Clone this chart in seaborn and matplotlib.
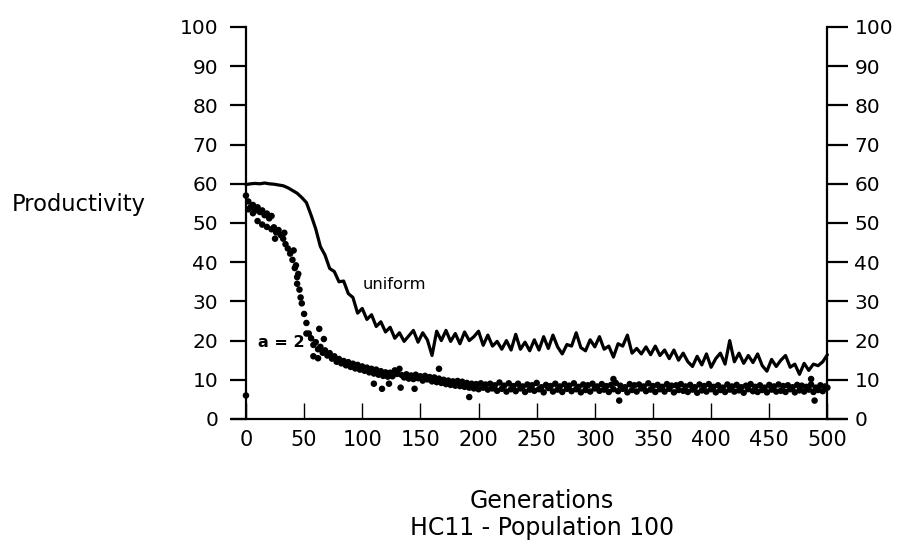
import numpy as np
import pandas as pd
import matplotlib
matplotlib.use("Agg")
import matplotlib.pyplot as plt
import seaborn as sns

# ---------------- data ----------------
uniform_gen = list(range(0, 501, 4))
uniform_val = [
    59.8, 60.0, 60.1, 60.0, 60.2, 60.0, 59.9, 59.7, 59.5, 59.0,
    58.3, 57.6, 56.5, 55.2, 52.0, 48.5, 44.0, 41.8, 38.4, 37.6,
    35.0, 35.2, 32.0, 31.0,
    27.0, 28.2, 25.4, 26.6, 23.6, 24.8, 22.2, 23.4, 20.6, 22.0,
    19.8, 21.2, 22.6, 19.6, 22.0, 20.2, 16.2, 22.4, 20.0, 22.6,
    19.8, 21.8, 19.2, 22.2, 20.0, 21.0, 22.4, 18.8, 21.4, 18.6,
    19.8, 17.8, 20.0, 17.6, 21.6, 17.8, 19.6, 17.4, 20.2, 17.6,
    21.0, 18.0, 21.4, 18.4, 16.6, 19.0, 18.6, 22.0, 18.2, 17.4,
    20.2, 18.4, 21.0, 17.8, 18.6, 15.8, 19.2, 18.6, 21.4, 16.8,
    18.0, 16.6, 18.4, 16.4, 18.6, 16.2, 17.6, 15.4, 17.6, 15.0,
    16.8, 14.6, 13.4, 16.0, 13.8, 16.6, 13.2, 15.4, 16.8, 14.0,
    20.0, 14.6, 16.8, 14.2, 16.2, 14.4, 16.6, 13.6, 12.2, 15.2,
    13.4, 15.0, 16.2, 13.2, 14.0, 11.4, 14.2, 12.4, 14.0, 13.6,
    14.6, 16.4,
]

a2_gen = list(range(0, 501, 2))
a2_val = [
    57.0, 53.5, 54.0, 52.5, 53.2, 50.5, 52.8, 49.6, 52.0, 49.0,
    51.2, 48.4, 48.9, 47.6, 48.2, 46.9, 46.0, 44.6, 43.5, 42.2,
    40.6, 38.5, 36.2, 33.0, 29.5, 26.8, 24.5, 21.8, 20.6, 18.9,
    19.6, 17.8, 18.4, 16.9, 17.5, 16.2, 16.8, 15.4, 16.0, 14.6,
    15.3, 14.2, 14.8, 13.7, 14.5, 13.3, 14.1, 12.9, 13.8, 12.6,
    13.4, 12.3, 13.1, 11.9, 12.8, 11.6, 12.6, 11.3, 12.2, 11.0,
    11.9, 10.8, 11.8, 10.9, 12.4, 11.5, 12.8, 11.2, 10.6, 11.4,
    10.3, 11.1, 10.2, 11.3, 10.4, 10.9, 9.8, 11.0, 10.1, 10.7,
    9.6, 10.6, 9.4, 10.3, 9.2, 10.0, 8.9, 9.8, 8.7, 9.6,
    8.5, 9.7, 8.4, 9.5, 8.2, 9.2, 8.0, 9.0, 7.8, 8.9,
    7.6, 9.1, 8.0, 8.8, 7.5, 9.0, 7.8, 8.6, 7.2, 9.3,
    7.7, 8.5, 7.0, 9.1, 7.6, 8.4, 7.1, 9.0, 7.8, 8.3,
    6.9, 8.8, 7.5, 8.6, 7.2, 9.2, 7.6, 8.1, 6.8, 8.7,
    7.9, 8.4, 7.0, 9.0, 7.5, 8.3, 6.9, 8.9, 7.7, 8.5,
    7.1, 9.1, 7.6, 8.2, 6.8, 8.8, 7.4, 8.6, 7.0, 9.0,
    7.8, 8.3, 7.2, 8.9, 7.5, 8.4, 6.9, 8.7, 7.6, 9.2,
    7.1, 8.5, 7.7, 8.1, 6.8, 8.9, 7.4, 8.6, 7.0, 8.8,
    7.8, 8.3, 7.1, 9.1, 7.5, 8.4, 6.9, 8.7, 7.6, 8.2,
    7.0, 8.9, 7.7, 8.5, 6.8, 8.6, 7.4, 8.9, 7.2, 8.3,
    6.9, 8.7, 7.5, 8.1, 6.7, 8.8, 7.3, 8.4, 7.0, 8.9,
    7.6, 8.2, 6.8, 8.6, 7.4, 8.0, 6.9, 8.8, 7.5, 8.3,
    7.0, 8.7, 7.3, 8.1, 6.7, 8.5, 7.6, 8.9, 7.1, 8.2,
    6.9, 8.6, 7.4, 8.0, 6.8, 8.7, 7.5, 8.3, 7.0, 8.8,
    7.2, 8.4, 6.9, 8.6, 7.6, 8.1, 6.8, 8.7, 7.3, 8.5,
    7.0, 8.2, 7.5, 8.8, 6.9, 8.0, 7.4, 8.6, 7.1, 8.3,
    8.0,
]

a2_extra_gen = [0, 2, 6, 10, 14, 18, 22, 25, 33, 41, 43, 45, 44, 47,
                52, 63, 67, 58, 62, 110, 117, 123, 133, 145, 166, 192,
                316, 321, 486, 489]
a2_extra_val = [6.0, 55.5, 54.6, 54.0, 53.2, 52.4, 51.8, 46.0, 47.5, 43.0,
                39.2, 37.0, 34.5, 31.0, 21.8, 23.0, 20.4, 16.0, 15.5, 9.0,
                7.7, 9.0, 8.0, 7.7, 12.8, 5.6, 10.2, 4.7, 10.2, 4.7]

x_ticks = [0, 50, 100, 150, 200, 250, 300, 350, 400, 450, 500]
y_ticks = [0, 10, 20, 30, 40, 50, 60, 70, 80, 90, 100]

df_u = pd.DataFrame({"Generations": uniform_gen, "Productivity": uniform_val})
df_a = pd.DataFrame({"Generations": a2_gen + a2_extra_gen,
                     "Productivity": a2_val + a2_extra_val})

# ---------------- style ----------------
sns.set_theme(style="white")
plt.rcParams["font.family"] = ["DejaVu Sans"]

W, H = 902, 543
XMIN, XMAX = -12, 516
fig = plt.figure(figsize=(W / 100, H / 100), dpi=100)
ax = fig.add_axes([232 / W, (H - 419) / H, 614 / W, 392 / H])

sns.lineplot(data=df_u, x="Generations", y="Productivity", ax=ax,
             color="black", linewidth=2.3, estimator=None, sort=False)
sns.scatterplot(data=df_a, x="Generations", y="Productivity", ax=ax,
                color="black", s=22, linewidth=0, edgecolor="none")

ax.set_xlim(XMIN, XMAX)
ax.set_ylim(0, 100)

# spines
ax.spines["top"].set_visible(False)
ax.spines["right"].set_visible(False)
ax.spines["left"].set_position(("data", 0))
for s in ["left", "bottom"]:
    ax.spines[s].set_color("black")
    ax.spines[s].set_linewidth(1.6)

ax.set_xticks(x_ticks)
ax.set_xticklabels([str(v) for v in x_ticks])
ax.set_yticks(y_ticks)
ax.set_yticklabels([str(v) for v in y_ticks])

ax.tick_params(axis="x", direction="in", length=11.5, width=1.0, colors="black",
               labelsize=15, pad=8, bottom=True, top=False)
ax.tick_params(axis="y", left=True, right=False, labelleft=True,
               labelright=False, colors="black", labelsize=14.5,
               direction="out", width=1.6, length=11.5, pad=8.5)

# right-hand axis at generation 500
sec = ax.secondary_yaxis((500 - XMIN) / (XMAX - XMIN))
sec.set_yticks(y_ticks)
sec.set_yticklabels([str(v) for v in y_ticks])
sec.tick_params(axis="y", direction="out", length=15, width=1.6, pad=4.5,
                labelsize=14.5, colors="black")
sec.spines["right"].set_linewidth(1.6)
sec.spines["right"].set_color("black")

ax.set_xlabel("")
ax.set_ylabel("Productivity", rotation=0, ha="left", va="center", fontsize=16.3,
              color="black")
ax.yaxis.set_label_coords((12 - 232) / 614, (419 - 205) / 392)

ax.text(100.6, 34.2, "uniform", fontsize=11.8, ha="left", va="center",
        color="black")
ax.text(10.3, 19.4, "a = 2", fontsize=11.5, ha="left", va="center",
        color="black", fontweight="bold")

fig.text(542 / W, (H - 501) / H, "Generations", ha="center", va="center",
         fontsize=17, color="black")
fig.text(542 / W, (H - 528) / H, "HC11 - Population 100", ha="center",
         va="center", fontsize=17, color="black")

fig.savefig("out.png", dpi=100)
